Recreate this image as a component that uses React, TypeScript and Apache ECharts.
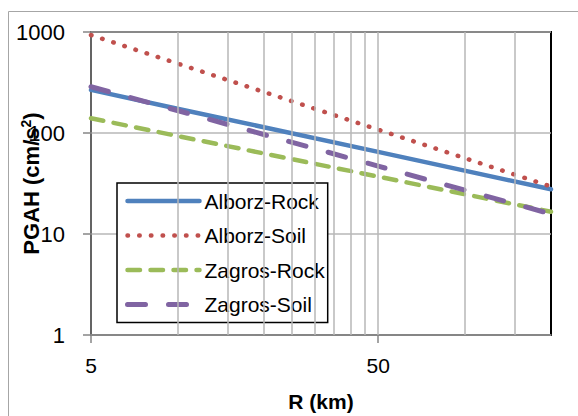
import React, { useEffect, useRef } from "react";
import * as echarts from "echarts";

const distances = [5, 10, 20, 50, 100, 200];
const alborzRock = [267, 174, 114, 65, 42.4, 27.7];
const alborzSoil = [933, 488, 255, 108, 56.5, 29.5];
const zagrosRock = [140, 93.5, 62.7, 37, 24.8, 16.6];
const zagrosSoil = [287, 167, 96.6, 47, 27.2, 15.8];
const xGridValues = [10, 15, 20, 25, 30, 35, 40, 45, 50, 100, 150];
const xLabelValues = [5, 50];
const seriesNames = ["Alborz-Rock", "Alborz-Soil", "Zagros-Rock", "Zagros-Soil"];

const FONT = "Liberation Sans";
const COLORS = ["#4F81BD", "#C0504D", "#9BBB59", "#8064A2"];
const WIDTHS = [4.5, 4.5, 4.5, 5];
const DASHES: any[] = ["solid", [0.5, 11.2], [12.5, 10.5], [18, 23]];

export default function App() {
  const ref = useRef<HTMLDivElement>(null);
  useEffect(() => {
    const chart = echarts.init(ref.current!, null, { renderer: "svg" });
    const pair = (ys: number[]) => distances.map((x, i) => [x, ys[i]]);
    const lineStyleOf = (i: number) => ({ color: COLORS[i], width: WIDTHS[i], type: DASHES[i], cap: "round" });
    const mk = (i: number, ys: number[]) => ({
      name: seriesNames[i],
      type: "line",
      data: pair(ys),
      symbol: "none",
      z: 3,
      lineStyle: lineStyleOf(i),
      itemStyle: { color: COLORS[i], opacity: 0 },
    });
    chart.setOption({
      animation: false,
      backgroundColor: "#fff",
      textStyle: { fontFamily: FONT },
      graphic: [
        {
          type: "rect",
          shape: { x: 8.5, y: 11.5, width: 700, height: 600 },
          style: { fill: "none", stroke: "#a6a6a6", lineWidth: 1 },
          silent: true,
          z: -1,
        },
      ],
      grid: {
        left: 91,
        top: 32,
        right: 27,
        bottom: 81,
        containLabel: false,
        outerBoundsMode: "none",
        show: true,
        borderColor: "#000",
        borderWidth: 2,
        backgroundColor: "#fff",
      },
      legend: {
        data: seriesNames.map((n, i) => ({
          name: n,
          lineStyle: lineStyleOf(i),
          itemStyle: { opacity: 0 },
        })),
        orient: "vertical",
        left: 117,
        top: 183,
        itemWidth: 72,
        itemHeight: 21,
        itemGap: 13.5,
        padding: [7.5, 3, 7.5, 8],
        backgroundColor: "#fff",
        borderColor: "#000",
        borderWidth: 1.5,
        borderRadius: 0,
        itemStyle: { opacity: 0 },
        textStyle: { fontFamily: FONT, fontSize: 21, color: "#000" },
      },
      xAxis: {
        type: "log",
        logBase: 10,
        min: 5,
        max: 200,
        name: "R (km)",
        nameLocation: "middle",
        nameGap: 56,
        nameMoveOverlap: false,
        nameTextStyle: { fontFamily: FONT, fontSize: 21, fontWeight: "bold", color: "#000" },
        axisLine: { show: true, lineStyle: { color: "#868686", width: 1.5 } },
        axisTick: { show: true, customValues: xLabelValues, length: 8, lineStyle: { color: "#868686", width: 1.5 } },
        axisLabel: {
          customValues: xLabelValues,
          formatter: (v: number) => String(v),
          fontFamily: FONT,
          fontSize: 21,
          color: "#000",
          margin: 20,
        },
        splitLine: { show: false },
      },
      yAxis: {
        type: "log",
        logBase: 10,
        min: 1,
        max: 1000,
        name: "PGAH (cm/s{sup|2})",
        nameLocation: "middle",
        nameGap: 48,
        nameMoveOverlap: false,
        nameTextStyle: {
          fontFamily: FONT,
          fontSize: 22,
          fontWeight: "bold",
          color: "#000",
          rich: {
            sup: { fontFamily: FONT, fontSize: 14, fontWeight: "bold", color: "#000", verticalAlign: "top", lineHeight: 24 },
          },
        },
        axisLine: { show: true, lineStyle: { color: "#868686", width: 1.5 } },
        axisTick: { show: true, length: 8, lineStyle: { color: "#868686", width: 1.5 } },
        axisLabel: { formatter: (v: number) => String(v), fontFamily: FONT, fontSize: 22, color: "#000", margin: 26 },
        splitLine: { show: true, lineStyle: { color: "#b7b7b7", width: 1.5 } },
      },
      series: [
        {
          name: "grid",
          type: "line",
          data: [],
          z: 1,
          silent: true,
          markLine: {
            silent: true,
            symbol: "none",
            label: { show: false },
            lineStyle: { color: "#b7b7b7", width: 1.5, type: "solid" },
            data: xGridValues.map((v) => ({ xAxis: v })),
          },
        },
        mk(0, alborzRock),
        mk(1, alborzSoil),
        mk(2, zagrosRock),
        mk(3, zagrosSoil),
      ],
    });
    return () => chart.dispose();
  }, []);
  return (
    <div
      ref={ref}
      style={{ position: "fixed", left: 0, top: 0, width: 578, height: 416 }}
    />
  );
}
